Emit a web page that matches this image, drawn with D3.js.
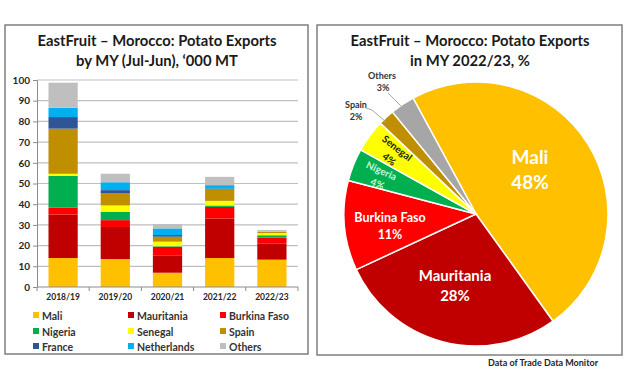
<!DOCTYPE html>
<html><head><meta charset="utf-8">
<script src="https://cdn.jsdelivr.net/npm/d3@7"></script>
<style>body{margin:0;background:#fff}svg{display:block}</style>
</head><body>
<svg id="c" width="626" height="391"></svg>
<script>
const years = ["2018/19","2019/20","2020/21","2021/22","2022/23"];
const countries = ["Mali","Mauritania","Burkina Faso","Nigeria","Senegal","Spain","France","Netherlands","Others"];
const colors = ["#FFC000","#C00000","#FF0000","#00B050","#FFFF00","#BF8F00","#2F5597","#00B0F0","#BFBFBF"];
const mali        = [14.0,13.5,6.9,14.0,13.2];
const mauritania  = [21.0,15.5,8.4,19.1,7.7];
const burkinaFaso = [3.4,3.3,4.1,5.6,3.0];
const nigeria     = [15.3,4.0,0.3,0.7,1.1];
const senegal     = [1.0,3.1,2.2,2.2,1.1];
const spain       = [21.8,5.8,2.4,5.5,0.55];
const france      = [5.6,1.6,0.8,0.5,0.0];
const netherlands = [4.5,3.8,3.2,1.6,0.05];
const others      = [12.1,4.1,2.1,4.0,0.8];
const yTicks = [0,10,20,30,40,50,60,70,80,90,100];
const pieLabels = ["Mali","Mauritania","Burkina Faso","Nigeria","Senegal","Spain","Others"];
const pieShares = [48,28,11,4,4,2,3];
const pieColors = ["#FFC000","#C00000","#FF0000","#00B050","#FFFF00","#BF8F00","#A6A6A6"];

const series = [mali,mauritania,burkinaFaso,nigeria,senegal,spain,france,netherlands,others];
const svg = d3.select("#c");
const font = "Lato, 'Open Sans', sans-serif";

// panels
svg.append("rect").attr("x",5).attr("y",25).attr("width",303).attr("height",329)
  .attr("fill","#fff").attr("stroke","#7f7f7f").attr("stroke-width",1.5);
svg.append("rect").attr("x",317).attr("y",25).attr("width",305).attr("height",330)
  .attr("fill","#fff").attr("stroke","#7f7f7f").attr("stroke-width",1.5);

// left title
const t1 = svg.append("text").attr("x",157).attr("y",46).attr("text-anchor","middle")
  .attr("font-family",font).attr("font-weight","bold").attr("font-size",14.8).attr("fill","#1a1a1a");
t1.append("tspan").attr("x",157).attr("dy",0).text("EastFruit – Morocco: Potato Exports");
t1.append("tspan").attr("x",157).attr("dy",20).text("by MY (Jul-Jun), ‘000 MT");

// bar chart
const x = d3.scaleBand().domain(years).range([37,298]).paddingInner(0.44).paddingOuter(0.22);
const y = d3.scaleLinear().domain([0,100]).range([287,80]);
const g = svg.append("g");
g.selectAll("line.grid").data(yTicks.slice(1)).join("line")
  .attr("x1",37).attr("x2",298).attr("y1",d=>y(d)).attr("y2",d=>y(d))
  .attr("stroke","#bfbfbf").attr("stroke-width",1.2);
const yAxis = g.append("g").attr("transform","translate(37,0)")
  .call(d3.axisLeft(y).tickValues(yTicks).tickSize(4).tickPadding(3));
yAxis.select(".domain").attr("stroke","#8c8c8c");
yAxis.selectAll(".tick line").attr("stroke","#8c8c8c");
yAxis.selectAll("text").attr("font-family",font).attr("font-weight","bold").attr("font-size",10).attr("fill","#262626");

const stackData = years.map((yr,i)=>{const o={year:yr}; countries.forEach((c,k)=>o[c]=series[k][i]); return o;});
const stacked = d3.stack().keys(countries)(stackData);
g.selectAll("g.layer").data(stacked).join("g").attr("fill",(d,i)=>colors[i])
  .selectAll("rect").data(d=>d).join("rect")
  .attr("x",d=>x(d.data.year)).attr("width",x.bandwidth())
  .attr("y",d=>y(d[1])).attr("height",d=>Math.max(0,y(d[0])-y(d[1])));

// x axis
g.append("line").attr("x1",37).attr("x2",298).attr("y1",287).attr("y2",287).attr("stroke","#8c8c8c").attr("stroke-width",1.2);
g.selectAll("line.xt").data(d3.range(years.length+1)).join("line")
  .attr("x1",d=>37+d*(261/years.length)).attr("x2",d=>37+d*(261/years.length))
  .attr("y1",287).attr("y2",291).attr("stroke","#8c8c8c");
g.selectAll("text.xl").data(years).join("text")
  .attr("x",d=>x(d)+x.bandwidth()/2).attr("y",300).attr("text-anchor","middle")
  .attr("font-family",font).attr("font-weight","bold").attr("font-size",8.5).attr("fill","#262626")
  .text(d=>d);

// legend
const legCols=[33,128,220], legRows=[316,332,347];
countries.forEach((c,i)=>{
  const lx=legCols[i%3], ly=legRows[Math.floor(i/3)];
  svg.append("rect").attr("x",lx).attr("y",ly-4).attr("width",6).attr("height",6).attr("fill",colors[i]);
  svg.append("text").attr("x",lx+9).attr("y",ly+4).attr("font-family",font).attr("font-weight","bold")
    .attr("font-size",10.5).attr("fill","#333").text(c);
});

// right title
const t2 = svg.append("text").attr("x",470).attr("y",46).attr("text-anchor","middle")
  .attr("font-family",font).attr("font-weight","bold").attr("font-size",14.8).attr("fill","#1a1a1a");
t2.append("tspan").attr("x",470).attr("dy",0).text("EastFruit – Morocco: Potato Exports");
t2.append("tspan").attr("x",470).attr("dy",20).text("in MY 2022/23, %");

// pie
const cx=476, cy=214, R=132;
const start = -28.5*Math.PI/180;
const pie = d3.pie().sort(null).value(d=>d).startAngle(start).endAngle(start+2*Math.PI);
const arcs = pie(pieShares);
const arc = d3.arc().innerRadius(0).outerRadius(R);
const pg = svg.append("g").attr("transform",`translate(${cx},${cy})`);
pg.selectAll("path").data(arcs).join("path").attr("d",arc)
  .attr("fill",(d,i)=>pieColors[i]).attr("stroke","#fff").attr("stroke-width",1.5);

function lab(txt, px, py, size, fill, rot){
  const t = svg.append("text").attr("x",px).attr("y",py).attr("text-anchor","middle")
    .attr("font-family",font).attr("font-weight","bold").attr("font-size",size).attr("fill",fill).text(txt);
  if(rot) t.attr("transform",`rotate(${rot},${px},${py})`);
}
lab(pieLabels[0],530,164,19,"#fff");
lab(pieShares[0]+"%",530,189,19,"#fff");
lab(pieLabels[1],455,281,15,"#fff");
lab(pieShares[1]+"%",455,301,15,"#fff");
lab(pieLabels[2],390,222,12.5,"#fff");
lab(pieShares[2]+"%",390,239,12.5,"#fff");
lab(pieLabels[3],380,174,10,"#c8f5cf",24);
lab(pieShares[3]+"%",376,187,10,"#c8f5cf",24);
lab(pieLabels[4],395,151,10,"#1a1a1a",38);
lab(pieShares[4]+"%",387,162,10,"#1a1a1a",38);
lab(pieLabels[5],356,108,9,"#333");
lab(pieShares[5]+"%",356,120,9,"#333");
lab(pieLabels[6],382,79,9,"#333");
lab(pieShares[6]+"%",383,91,9,"#333");
svg.append("polyline").attr("points","366,108 372,110 386,122").attr("fill","none").attr("stroke","#a6a6a6");
svg.append("polyline").attr("points","388,93 401,106").attr("fill","none").attr("stroke","#a6a6a6");

svg.append("text").attr("x",598).attr("y",366).attr("text-anchor","end")
  .attr("font-family",font).attr("font-weight","bold").attr("font-size",9).attr("fill","#262626")
  .text("Data of Trade Data Monitor");
</script>
</body></html>
